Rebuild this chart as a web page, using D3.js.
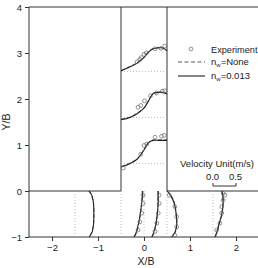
<!DOCTYPE html>
<html>
<head>
<meta charset="utf-8">
<script src="https://cdn.jsdelivr.net/npm/d3@7"></script>
<style>
  body { margin: 0; background: #fff; }
  text { font-family: "Liberation Sans", Arial, sans-serif; fill: #222; }
</style>
</head>
<body>
<div id="chart-area"></div>
<script>
// branch channel profiles (vertical velocity vs X/B)
const branchY0 = [2.6, 1.6, 0.6];
const branchX = [-0.5, -0.3, -0.15, 0, 0.1, 0.2, 0.3, 0.4, 0.5];
const branchFit = [
    [0.01, 0.10, 0.18, 0.30, 0.42, 0.49, 0.51, 0.51, 0.45],
    [-0.05, 0.0, 0.08, 0.20, 0.36, 0.52, 0.54, 0.54, 0.51],
    [-0.08, 0.0, 0.09, 0.29, 0.45, 0.50, 0.50, 0.50, 0.50]
];
const branchNone = [
    [0.02, 0.11, 0.19, 0.31, 0.43, 0.50, 0.52, 0.52, 0.47],
    [-0.04, 0.01, 0.09, 0.21, 0.37, 0.52, 0.55, 0.55, 0.52],
    [-0.07, 0.01, 0.10, 0.30, 0.46, 0.51, 0.51, 0.51, 0.51]
];
const branchExpX = [
    [-0.15, -0.09, -0.06, 0.0, 0.05, 0.24, 0.37, 0.45],
    [-0.13, -0.07, 0.01, 0.14, 0.27, 0.40, 0.45],
    [-0.45, -0.07, 0.0, 0.06, 0.24, 0.38, 0.44]
];
const branchExpU = [
    [0.21, 0.26, 0.30, 0.37, 0.40, 0.49, 0.50, 0.55],
    [0.22, 0.26, 0.36, 0.47, 0.53, 0.57, 0.58],
    [-0.10, 0.20, 0.39, 0.42, 0.57, 0.59, 0.61]
];

// main channel profiles (horizontal velocity vs Y/B)
const mainX0 = [-1.5, -0.5, 0, 0.5, 1.5];
const mainY = [0, -0.1, -0.25, -0.5, -0.75, -0.9, -1];
const mainFit = [
    [0.31, 0.37, 0.40, 0.41, 0.40, 0.37, 0.31],
    [0.47, 0.47, 0.45, 0.42, 0.37, 0.33, 0.28],
    [0.31, 0.31, 0.31, 0.29, 0.25, 0.21, 0.17],
    [0.00, 0.08, 0.15, 0.20, 0.21, 0.17, 0.10],
    [0.19, 0.21, 0.22, 0.19, 0.12, 0.08, 0.04]
];
const mainNone = [
    [0.30, 0.36, 0.40, 0.41, 0.40, 0.36, 0.30],
    [0.46, 0.46, 0.45, 0.42, 0.38, 0.34, 0.29],
    [0.30, 0.30, 0.30, 0.29, 0.26, 0.22, 0.18],
    [0.01, 0.09, 0.16, 0.20, 0.21, 0.18, 0.11],
    [0.20, 0.22, 0.22, 0.20, 0.13, 0.09, 0.05]
];
const mainExpY = [
    [],
    [-0.09, -0.27, -0.48, -0.67, -0.85],
    [-0.09, -0.27, -0.48, -0.70, -0.88],
    [-0.09, -0.34, -0.56, -0.78, -0.96],
    [-0.05, -0.09, -0.20, -0.34, -0.48, -0.70, -0.85]
];
const mainExpU = [
    [],
    [0.48, 0.48, 0.45, 0.41, 0.37],
    [0.33, 0.33, 0.31, 0.28, 0.24],
    [0.05, 0.17, 0.21, 0.21, 0.17],
    [0.22, 0.26, 0.22, 0.19, 0.19, 0.15, 0.08]
];

const xTicks = [-2, -1, 0, 1, 2];
const yTicks = [-1, 0, 1, 2, 3, 4];
const legendLabels = ["Experiment", "None", "0.013"];
const scaleTicks = [0.0, 0.5];

const width = 258, height = 268;
const svg = d3.select("#chart-area").append("svg")
    .attr("width", width).attr("height", height);

const x = d3.scaleLinear().domain([-2.5, 2.5]).range([29, 259]);
const y = d3.scaleLinear().domain([-1, 4]).range([237, 7]);
const ink = "#333";

// axes
svg.append("g").attr("transform", "translate(0,237)")
    .call(d3.axisBottom(x).tickValues(xTicks).tickSize(4).tickPadding(3).tickFormat(d3.format("d")))
    .call(g => g.select(".domain").remove());
svg.append("g").attr("transform", "translate(29,0)")
    .call(d3.axisLeft(y).tickValues(yTicks).tickSize(4).tickPadding(3).tickFormat(d3.format("d")))
    .call(g => g.select(".domain").remove());
svg.selectAll(".tick line").attr("stroke", ink);
svg.selectAll(".tick text").attr("font-size", 9.5).attr("fill", "#222")
    .attr("font-family", "Liberation Sans, Arial, sans-serif");

// frame and channel walls
const walls = [
    [[-2.5, -1], [2.6, -1]],
    [[-2.5, -1], [-2.5, 4]],
    [[-2.5, 4], [2.6, 4]],
    [[-2.5, 0], [-0.5, 0]],
    [[-0.5, 0], [-0.5, 4]],
    [[0.5, 0], [0.5, 4]],
    [[0.5, 0], [2.6, 0]]
];
svg.append("g").selectAll("line").data(walls).join("line")
    .attr("x1", d => x(d[0][0])).attr("y1", d => y(d[0][1]))
    .attr("x2", d => x(d[1][0])).attr("y2", d => y(d[1][1]))
    .attr("stroke", ink).attr("stroke-width", 1);

// dotted baselines
const base = svg.append("g").attr("stroke", "#aaa").attr("stroke-width", 0.8)
    .attr("stroke-dasharray", "1,2");
branchY0.forEach(y0 => {
    base.append("line").attr("x1", x(-0.5)).attr("x2", x(0.5))
        .attr("y1", y(y0)).attr("y2", y(y0));
});
mainX0.forEach(x0 => {
    base.append("line").attr("x1", x(x0)).attr("x2", x(x0))
        .attr("y1", y(0)).attr("y2", y(-1));
});

const vline = d3.line().curve(d3.curveCatmullRom);

// branch profiles
branchY0.forEach((y0, k) => {
    svg.append("path")
        .attr("d", vline(branchX.map((bx, i) => [x(bx), y(y0 + branchNone[k][i])])))
        .attr("fill", "none").attr("stroke", "#555").attr("stroke-width", 1)
        .attr("stroke-dasharray", "4,2");
    svg.append("path")
        .attr("d", vline(branchX.map((bx, i) => [x(bx), y(y0 + branchFit[k][i])])))
        .attr("fill", "none").attr("stroke", "#222").attr("stroke-width", 1.1);
    svg.append("g").selectAll("circle").data(branchExpX[k]).join("circle")
        .attr("cx", d => x(d)).attr("cy", (d, i) => y(y0 + branchExpU[k][i]))
        .attr("r", 1.9).attr("fill", "none").attr("stroke", "#666").attr("stroke-width", 0.7);
});

// main channel profiles
mainX0.forEach((x0, k) => {
    svg.append("path")
        .attr("d", vline(mainY.map((my, i) => [x(x0 + mainNone[k][i]), y(my)])))
        .attr("fill", "none").attr("stroke", "#555").attr("stroke-width", 1)
        .attr("stroke-dasharray", "4,2");
    svg.append("path")
        .attr("d", vline(mainY.map((my, i) => [x(x0 + mainFit[k][i]), y(my)])))
        .attr("fill", "none").attr("stroke", "#222").attr("stroke-width", 1.1);
    svg.append("g").selectAll("circle").data(mainExpY[k]).join("circle")
        .attr("cy", d => y(d)).attr("cx", (d, i) => x(x0 + mainExpU[k][i]))
        .attr("r", 1.9).attr("fill", "none").attr("stroke", "#666").attr("stroke-width", 0.7);
});

// axis titles
svg.append("text").attr("x", 146).attr("y", 265).attr("text-anchor", "middle")
    .attr("font-size", 10.5).text("X/B");
svg.append("text").attr("transform", "translate(10,122) rotate(-90)")
    .attr("text-anchor", "middle").attr("font-size", 10.5).text("Y/B");

// legend
const lg = svg.append("g");
lg.append("circle").attr("cx", 191).attr("cy", 49).attr("r", 1.9)
    .attr("fill", "none").attr("stroke", "#666").attr("stroke-width", 0.7);
lg.append("line").attr("x1", 178).attr("x2", 205).attr("y1", 62).attr("y2", 62)
    .attr("stroke", "#555").attr("stroke-dasharray", "4,2.5");
lg.append("line").attr("x1", 178).attr("x2", 205).attr("y1", 76).attr("y2", 76)
    .attr("stroke", "#222").attr("stroke-width", 1.1);
lg.append("text").attr("x", 211).attr("y", 53).attr("font-size", 9.2).text(legendLabels[0]);
[legendLabels[1], legendLabels[2]].forEach((lab, i) => {
    const t = lg.append("text").attr("x", 211).attr("y", 65 + i * 14).attr("font-size", 9.5);
    t.append("tspan").text("n");
    t.append("tspan").attr("font-size", 6).attr("dy", 2).text("w");
    t.append("tspan").attr("dy", -2).text("=" + lab);
});

// velocity scale
const vs = svg.append("g");
vs.append("text").attr("x", 217).attr("y", 167).attr("text-anchor", "middle")
    .attr("font-size", 9.5).text("Velocity Unit(m/s)");
const sx = d => x(1.5) + (x(scaleTicks[0] + d) - x(scaleTicks[0]));
scaleTicks.forEach(v => {
    vs.append("text").attr("x", sx(v) - 0.5).attr("y", 180).attr("text-anchor", "middle")
        .attr("font-size", 9.5).text(v.toFixed(1));
});
vs.append("path")
    .attr("d", `M${sx(0)},183V186H${sx(0.5)}V183`)
    .attr("fill", "none").attr("stroke", ink);
</script>
</body>
</html>
